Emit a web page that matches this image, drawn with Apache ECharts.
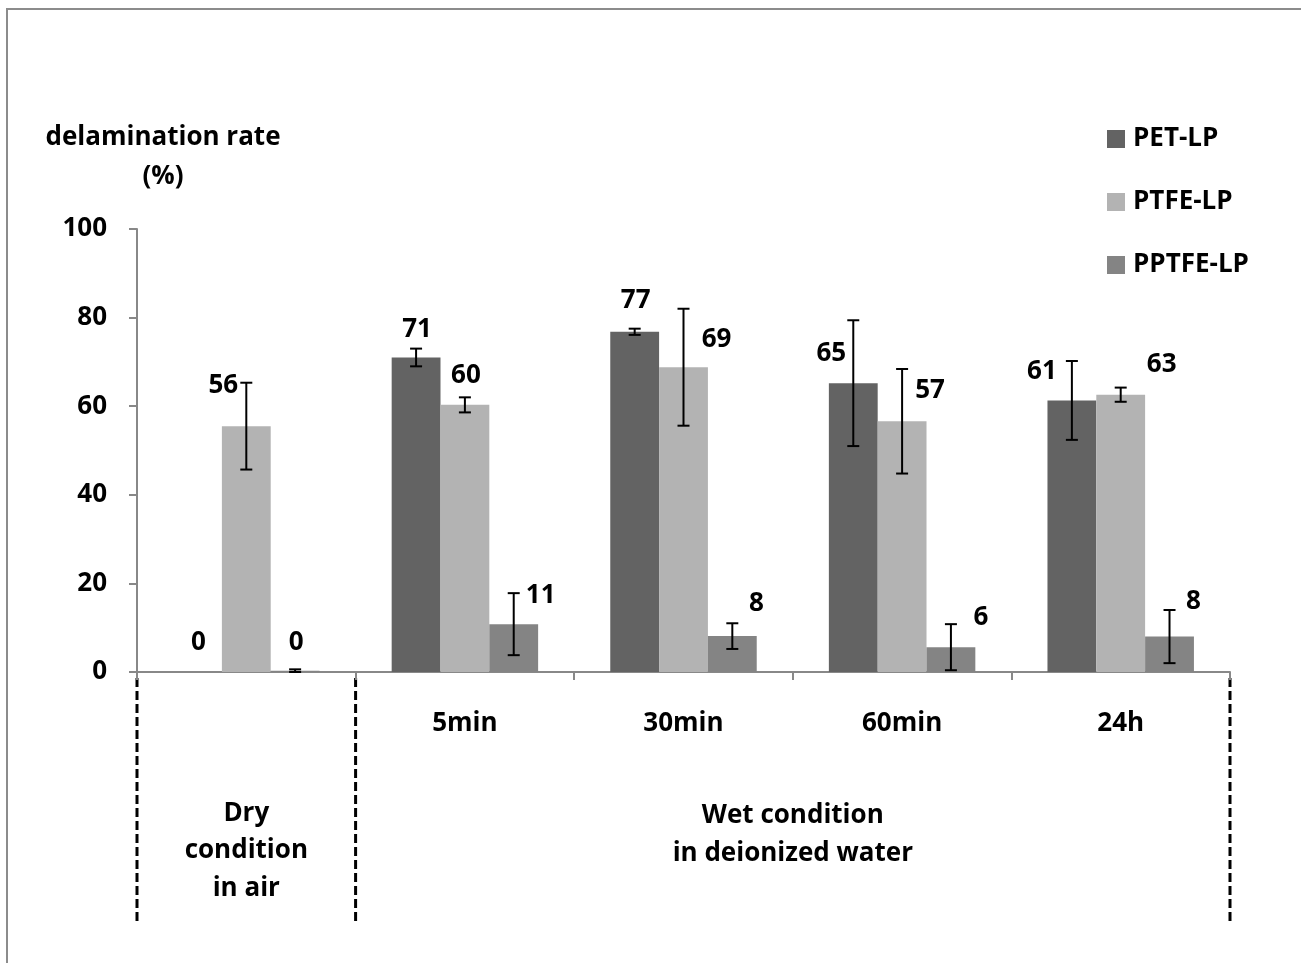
<!DOCTYPE html>
<html><head><meta charset="utf-8">
<script src="https://cdn.jsdelivr.net/npm/echarts@6/dist/echarts.min.js"></script>
<style>html,body{margin:0;padding:0;background:#fff}#chart{width:1301px;height:963px}</style>
</head><body><div id="chart"></div>
<script>
// ---- data ----
const categories = ['', '5min', '30min', '60min', '24h'];
const seriesNames = ['PET-LP', 'PTFE-LP', 'PPTFE-LP'];
const petValues   = [0,    71.0, 76.8, 65.2, 61.3];
const petErrors   = [0,    2.0,  0.7,  14.2, 8.9];
const ptfeValues  = [55.5, 60.3, 68.8, 56.6, 62.6];
const ptfeErrors  = [9.8,  1.7,  13.2, 11.8, 1.6];
const pptfeValues = [0.3,  10.8, 8.1,  5.6,  8.0];
const pptfeErrors = [0.3,  7.0,  2.9,  5.2,  6.0];
const yTicks = [0, 20, 40, 60, 80, 100];
const yAxisTitle = 'delamination rate\n(%)';
const dryGroupLabel = 'Dry\ncondition\nin air';
const wetGroupLabel = 'Wet condition\nin deionized water';

// ---- layout / style ----
const FONT = '"Open Sans", Lato, sans-serif';
const FS = 26;
const colors = ['#636363', '#b3b3b3', '#848484'];
const GAP = 0.33;
// label centre offsets (px) relative to each bar's top centre
const labelOffsets = [
  [[1,-29],[1,-28],[1,-31],[-22,-30],[-30,-29]],
  [[-23,-41],[1,-29],[33,-28],[28,-31],[41,-30]],
  [[1,-28],[27,-29],[24,-33],[30,-30],[24,-35]]
];

const valuesList = [petValues, ptfeValues, pptfeValues];
const errorsList = [petErrors, ptfeErrors, pptfeErrors];

const chart = echarts.init(document.getElementById('chart'));

const barSeries = seriesNames.map((name, s) => ({
  name, type: 'bar',
  barGap: '0%', barCategoryGap: (GAP * 100) + '%',
  itemStyle: { color: colors[s] },
  data: valuesList[s].map((v, i) => ({
    value: v,
    label: {
      show: true, position: ['50%', 0], align: 'center', verticalAlign: 'middle',
      offset: labelOffsets[s][i],
      formatter: () => String(Math.round(v)),
      fontFamily: FONT, fontWeight: 'bold', fontSize: FS, color: '#000'
    }
  }))
}));

const errData = [];
valuesList.forEach((vals, s) => vals.forEach((v, i) => {
  const e = errorsList[s][i];
  if (e > 0) errData.push([i, v - e, v + e, s]);
}));

const errSeries = {
  type: 'custom', z: 10, silent: true,
  encode: { x: 0, y: [1, 2] },
  data: errData,
  renderItem: (params, api) => {
    const cat = api.value(0), lo = api.value(1), hi = api.value(2), s = api.value(3);
    const pLo = api.coord([cat, lo]), pHi = api.coord([cat, hi]);
    const catW = api.size([1, 0])[0];
    const bw = catW * (1 - GAP) / 3;
    const x = pLo[0] + (s - 1) * bw;
    const st = { stroke: '#000', lineWidth: 2 };
    const cw = 6;
    return { type: 'group', children: [
      { type: 'line', shape: { x1: x, y1: pLo[1], x2: x, y2: pHi[1] }, style: st },
      { type: 'line', shape: { x1: x - cw, y1: pLo[1], x2: x + cw, y2: pLo[1] }, style: st },
      { type: 'line', shape: { x1: x - cw, y1: pHi[1], x2: x + cw, y2: pHi[1] }, style: st }
    ]};
  }
};

chart.setOption({
  animation: false,
  grid: { left: 137, right: 71, top: 229, bottom: 291, containLabel: false },
  legend: {
    orient: 'vertical', left: 1102, top: 121,
    itemWidth: 18, itemHeight: 18, itemGap: 37,
    data: seriesNames,
    icon: 'rect',
    textStyle: { fontFamily: FONT, fontWeight: 'bold', fontSize: 26, color: '#000', lineHeight: 26, padding: [0, 0, 0, 3] }
  },
  xAxis: {
    type: 'category', data: categories,
    axisLine: { lineStyle: { color: '#888', width: 2 } },
    axisTick: { show: true, length: 8, lineStyle: { color: '#888', width: 2 } },
    axisLabel: { margin: 37, fontFamily: FONT, fontWeight: 'bold', fontSize: FS, color: '#000', lineHeight: 30 }
  },
  yAxis: {
    type: 'value', min: yTicks[0], max: yTicks[yTicks.length - 1], interval: yTicks[1] - yTicks[0],
    axisLine: { show: true, lineStyle: { color: '#888', width: 2 } },
    axisTick: { show: true, length: 8, lineStyle: { color: '#888', width: 2 } },
    splitLine: { show: false },
    axisLabel: { margin: 30, fontFamily: FONT, fontWeight: 'bold', fontSize: FS, color: '#000' }
  },
  series: [...barSeries, errSeries]
});

// annotations placed through the axes
const cx = i => chart.convertToPixel({ xAxisIndex: 0 }, i);
const catW = cx(1) - cx(0);
const b0 = cx(0) - catW / 2, b1 = cx(0) + catW / 2, bEnd = cx(categories.length - 1) + catW / 2;
const y0 = chart.convertToPixel({ yAxisIndex: 0 }, 0);
const dashStyle = { stroke: '#000', lineWidth: 3, lineDash: [9, 4] };
const txt = (text, x, y, lh) => ({
  type: 'text', x, y, z: 20,
  style: { text, fontFamily: FONT, fontWeight: 'bold', fontSize: 26, fill: '#000',
           align: 'center', verticalAlign: 'middle', lineHeight: lh }
});
chart.setOption({
  graphic: [
    { type: 'rect', shape: { x: 7, y: 9, width: 1400, height: 1000 }, style: { fill: 'none', stroke: '#8c8c8c', lineWidth: 2 }, silent: true },
    { type: 'line', shape: { x1: b0, y1: y0 + 6, x2: b0, y2: y0 + 253 }, style: dashStyle },
    { type: 'line', shape: { x1: b1, y1: y0 + 6, x2: b1, y2: y0 + 253 }, style: dashStyle },
    { type: 'line', shape: { x1: bEnd, y1: y0 + 6, x2: bEnd, y2: y0 + 253 }, style: dashStyle },
    txt(dryGroupLabel, cx(0), y0 + 179, 37.5),
    txt(wetGroupLabel, (b1 + bEnd) / 2, y0 + 163, 38),
    txt(yAxisTitle, 163, 157, 39)
  ]
});
</script></body></html>
